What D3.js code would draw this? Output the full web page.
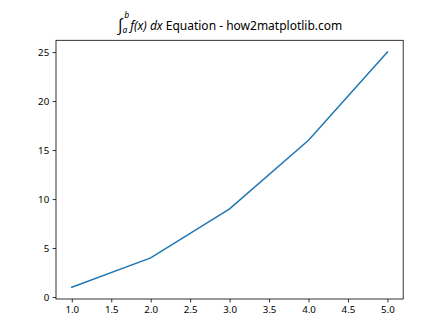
<!DOCTYPE html>
<html>
<head>
<meta charset="utf-8">
<script src="https://cdn.jsdelivr.net/npm/d3@7"></script>
<style>
  body { margin: 0; background: #fff; }
  svg text { font-family: "Noto Sans", "Open Sans", sans-serif; fill: #000; }
</style>
</head>
<body>
<div id="chart"></div>
<script>
// data
var xValues = [1, 2, 3, 4, 5];
var yValues = [1, 4, 9, 16, 25];
var xTicks = [1.0, 1.5, 2.0, 2.5, 3.0, 3.5, 4.0, 4.5, 5.0];
var yTicks = [0, 5, 10, 15, 20, 25];
var titleText = " Equation - how2matplotlib.com";

var width = 448, height = 336;
var margin = { top: 40.3, bottom: 37, left: 56, right: 44.8 };
var w = width - margin.left - margin.right;
var h = height - margin.top - margin.bottom;

var svg = d3.select("#chart").append("svg")
    .attr("width", width)
    .attr("height", height);

var chart = svg.append("g")
    .attr("transform", "translate(" + margin.left + "," + margin.top + ")");

// matplotlib style 5% padding
var xPad = (d3.max(xValues) - d3.min(xValues)) * 0.05;
var yPad = (d3.max(yValues) - d3.min(yValues)) * 0.05;
var xScale = d3.scaleLinear().domain([d3.min(xValues) - xPad, d3.max(xValues) + xPad]).range([0, w]);
var yScale = d3.scaleLinear().domain([d3.min(yValues) - yPad, d3.max(yValues) + yPad]).range([h, 0]);

var xAxis = chart.append("g")
    .attr("transform", "translate(0," + h + ")")
    .call(d3.axisBottom(xScale).tickValues(xTicks).tickFormat(d3.format(".1f")).tickSize(3.4).tickPadding(3.4));
var yAxis = chart.append("g")
    .call(d3.axisLeft(yScale).tickValues(yTicks).tickFormat(d3.format("d")).tickSize(3.4).tickPadding(3.4));

[xAxis, yAxis].forEach(function (a) {
    a.select(".domain").remove();
    a.selectAll("line").attr("stroke", "#000").attr("stroke-width", 0.8);
    a.selectAll("text").style("font-size", "9.7px").attr("fill", "#000");
});

// frame
chart.append("rect")
    .attr("width", w).attr("height", h)
    .attr("fill", "none").attr("stroke", "#000").attr("stroke-width", 0.8);

var line = d3.line()
    .x(function (d, i) { return xScale(xValues[i]); })
    .y(function (d) { return yScale(d); });

chart.append("path")
    .datum(yValues)
    .attr("d", line)
    .attr("fill", "none")
    .attr("stroke", "#1f77b4")
    .attr("stroke-width", 1.5)
    .attr("stroke-linecap", "square");

// title with integral
var title = svg.append("text")
    .attr("x", margin.left + w / 2)
    .attr("y", 30)
    .attr("text-anchor", "middle")
    .style("font-size", "12px");
title.append("tspan").attr("font-size", "17px").attr("dy", 1).text("\u222B");
title.append("tspan").attr("font-size", "8.5px").attr("font-style", "italic").attr("dy", 2).attr("dx", -1).text("a");
title.append("tspan").attr("font-size", "8.5px").attr("font-style", "italic").attr("dy", -15).attr("dx", -3).text("b");
title.append("tspan").attr("font-style", "italic").attr("dy", 12).attr("dx", 1).text("f(x) dx");
title.append("tspan").text(titleText);
</script>
</body>
</html>
